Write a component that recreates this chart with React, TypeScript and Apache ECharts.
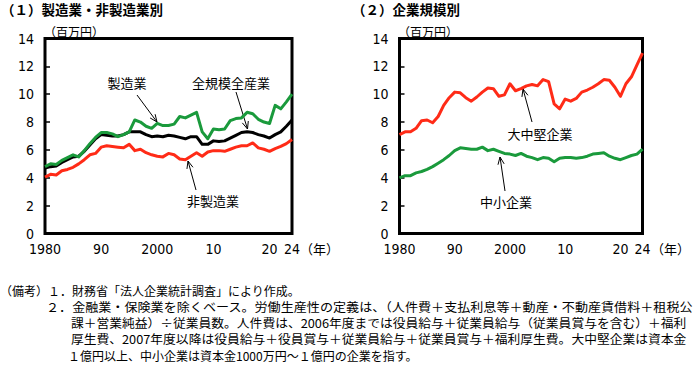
import React, { useEffect, useRef } from "react";
import * as echarts from "echarts";

// Fiscal years 1980–2024
const years: string[] = Array.from({ length: 45 }, (_, i) => String(1980 + i));

// Tick labels shown on the x axes
const xTickYears = ["1980", "1990", "2000", "2010", "2020", "2024"];
const xTickLabels = ["1980", "90", "2000", "10", "20", "24"];

// (1) by industry (million yen per employee)
const manufacturing = [
  4.8, 5.0, 4.95, 5.25, 5.45, 5.65, 5.5, 5.95, 6.45, 6.9,
  7.25, 7.25, 7.15, 6.95, 7.1, 7.3, 8.15, 8.0, 7.7, 7.55,
  7.9, 7.75, 7.75, 7.85, 8.4, 8.3, 8.5, 8.7, 7.3, 6.8,
  7.5, 7.45, 7.5, 8.1, 8.25, 8.3, 8.7, 8.6, 8.2, 8.0,
  7.9, 9.2, 8.95, 9.45, 10.0,
];
const allIndustries = [
  4.7, 4.8, 4.85, 5.1, 5.3, 5.5, 5.55, 5.9, 6.35, 6.8,
  7.1, 7.05, 7.0, 7.0, 7.1, 7.3, 7.3, 7.3, 7.1, 6.95,
  7.0, 6.95, 7.05, 7.0, 6.9, 6.8, 6.95, 6.95, 6.4, 6.4,
  6.65, 6.6, 6.65, 6.85, 7.05, 7.25, 7.3, 7.25, 7.1, 7.0,
  6.85, 7.1, 7.3, 7.7, 8.15,
];
const nonManufacturing = [
  4.05, 4.25, 4.2, 4.5, 4.6, 4.75, 5.0, 5.3, 5.65, 5.75,
  6.2, 6.3, 6.25, 6.2, 6.15, 6.4, 5.95, 6.05, 5.8, 5.65,
  5.55, 5.5, 5.75, 5.65, 5.35, 5.3, 5.55, 5.8, 5.55, 5.85,
  5.95, 5.95, 5.9, 6.05, 6.2, 6.3, 6.3, 6.5, 6.15, 6.05,
  5.9, 6.1, 6.25, 6.45, 6.75,
];

// (2) by company size
const largeMidsize = [
  7.1, 7.3, 7.3, 7.55, 8.1, 8.15, 7.95, 8.4, 9.2, 9.75,
  10.15, 10.1, 9.75, 9.5, 9.8, 10.15, 10.45, 10.4, 9.85, 9.95,
  10.75, 10.25, 10.4, 10.6, 10.7, 10.6, 11.05, 10.9, 9.3, 8.95,
  9.65, 9.5, 9.7, 10.15, 10.3, 10.5, 10.75, 11.05, 11.0, 10.5,
  9.85, 10.75, 11.25, 12.1, 12.95,
];
const smallMedium = [
  4.0, 4.15, 4.15, 4.35, 4.45, 4.6, 4.8, 5.05, 5.3, 5.6,
  5.95, 6.15, 6.1, 6.05, 6.05, 6.2, 5.95, 6.05, 5.9, 5.75,
  5.7, 5.6, 5.75, 5.55, 5.45, 5.3, 5.45, 5.4, 5.15, 5.4,
  5.45, 5.45, 5.4, 5.45, 5.55, 5.7, 5.75, 5.8, 5.55, 5.4,
  5.3, 5.45, 5.6, 5.7, 6.05,
];

const notes = [
  "（備考）１．財務省「法人企業統計調査」により作成。",
  "２．金融業・保険業を除くベース。労働生産性の定義は、（人件費＋支払利息等＋動産・不動産賃借料＋租税公",
  "課＋営業純益）÷従業員数。人件費は、2006年度までは役員給与＋従業員給与（従業員賞与を含む）＋福利",
  "厚生費、2007年度以降は役員給与＋役員賞与＋従業員給与＋従業員賞与＋福利厚生費。大中堅企業は資本金",
  "１億円以上、中小企業は資本金1000万円～１億円の企業を指す。",
];

const FONT_NUM = "'Liberation Sans Narrow', 'DejaVu Sans Condensed', 'Liberation Sans', sans-serif";
const FONT_JP = "'Noto Sans CJK JP', 'Noto Sans', sans-serif";
const GREEN = "#1a9a3c";
const RED = "#ff2b17";

function arrow(x1: number, y1: number, x2: number, y2: number) {
  const ang = Math.atan2(y2 - y1, x2 - x1);
  const L = 8;
  const a = 0.4;
  const p1 = [x2 - L * Math.cos(ang - a), y2 - L * Math.sin(ang - a)];
  const p2 = [x2 - L * Math.cos(ang + a), y2 - L * Math.sin(ang + a)];
  return [
    { type: "line", shape: { x1, y1, x2, y2 }, style: { stroke: "#000", lineWidth: 1 } },
    {
      type: "polyline",
      shape: { points: [p1, [x2, y2], p2] },
      style: { stroke: "#000", lineWidth: 1, fill: null },
    },
  ];
}

function txt(text: string, x: number, y: number, size: number, extra: any = {}, el: any = {}) {
  return {
    type: "text",
    x,
    y,
    ...el,
    style: {
      text,
      fill: "#000",
      fontSize: size,
      lineHeight: Math.round(size + 1),
      fontFamily: FONT_JP,
      textVerticalAlign: "middle",
      textAlign: "left",
      ...extra,
    },
  };
}

function xAxisFor(gridIndex: number) {
  return {
    type: "category",
    gridIndex,
    data: years,
    boundaryGap: false,
    axisLine: { show: false },
    axisTick: { show: false },
    axisLabel: {
      interval: (_i: number, v: string) => xTickYears.includes(v),
      formatter: (v: string) => xTickLabels[xTickYears.indexOf(v)] ?? "",
      color: "#000",
      fontSize: 14,
      fontFamily: FONT_NUM,
      margin: 8,
    },
    splitLine: { show: false },
  };
}

function yAxisFor(gridIndex: number) {
  return {
    type: "value",
    gridIndex,
    min: 0,
    max: 14,
    interval: 2,
    axisLine: { show: false },
    axisTick: { show: true, inside: true, length: 5, lineStyle: { color: "#000", width: 1.5 } },
    axisLabel: { color: "#000", fontSize: 14, fontFamily: FONT_NUM, margin: 11 },
    splitLine: { show: false },
  };
}

function line(name: string, data: number[], color: string, idx: number, z: number) {
  return {
    type: "line",
    name,
    data,
    xAxisIndex: idx,
    yAxisIndex: idx,
    symbol: "none",
    z,
    lineStyle: { color, width: 3, join: "round" },
    itemStyle: { color },
  };
}

export default function App() {
  const ref = useRef<HTMLDivElement>(null);
  useEffect(() => {
    if (!ref.current) return;
    const chart = echarts.init(ref.current, null, { renderer: "svg" });
    const graphics: any[] = [
      txt("（１）製造業・非製造業別", 1, 9, 13.5, { fontWeight: "bold" }),
      txt("（２）企業規模別", 352, 9, 13.5, { fontWeight: "bold" }),
      txt("（百万円）", 44, 31, 12),
      txt("（百万円）", 398, 31, 12),
      txt("（年）", 300, 248, 13),
      txt("（年）", 651, 248, 13),
      txt("製造業", 127, 82, 13, { textAlign: "center" }),
      txt("全規模全産業", 231, 82, 13, { textAlign: "center" }),
      txt("非製造業", 213, 200, 13, { textAlign: "center" }),
      txt("大中堅企業", 540, 133, 13, { textAlign: "center" }),
      txt("中小企業", 506, 201, 13, { textAlign: "center" }),
      ...arrow(137, 95, 157, 122),
      ...arrow(236, 92, 247.5, 129),
      ...arrow(196, 190, 188, 161),
      ...arrow(532, 122, 523, 89),
      ...arrow(505, 191, 500, 157),
      txt(notes[0], 0, 290, 12),
      txt(notes[1], 46, 307, 12, {}, { scaleX: 1.09 }),
      txt(notes[2], 71, 323, 12, {}, { scaleX: 1.065 }),
      txt(notes[3], 71, 339, 12, {}, { scaleX: 1.065 }),
      txt(notes[4], 68, 355, 12),
    ];
    chart.setOption({
      animation: false,
      backgroundColor: "#fff",
      grid: [
        { left: 45, top: 38.5, width: 247, height: 195, show: true, borderColor: "#000", borderWidth: 3, backgroundColor: "transparent", containLabel: false },
        { left: 399.5, top: 38.5, width: 243, height: 195, show: true, borderColor: "#000", borderWidth: 3, backgroundColor: "transparent", containLabel: false },
      ],
      xAxis: [xAxisFor(0), xAxisFor(1)],
      yAxis: [yAxisFor(0), yAxisFor(1)],
      series: [
        line("全規模全産業", allIndustries, "#000", 0, 2),
        line("非製造業", nonManufacturing, RED, 0, 3),
        line("製造業", manufacturing, GREEN, 0, 4),
        line("大中堅企業", largeMidsize, RED, 1, 3),
        line("中小企業", smallMedium, GREEN, 1, 3),
      ],
      graphic: graphics,
    });
    return () => chart.dispose();
  }, []);
  return (
    <div
      ref={ref}
      style={{ position: "absolute", left: 0, top: 0, width: 696, height: 365, background: "#fff" }}
    />
  );
}
